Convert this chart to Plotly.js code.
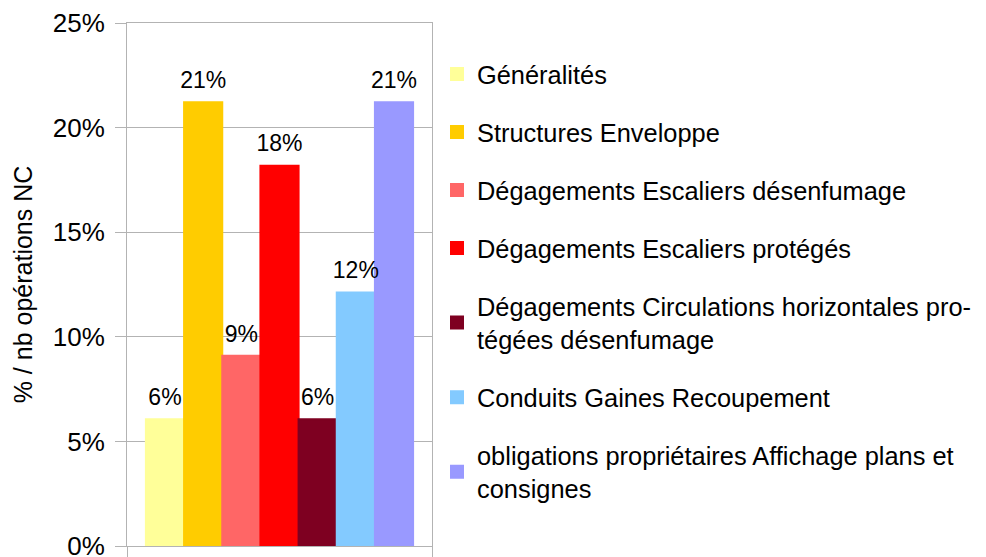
<!DOCTYPE html>
<html>
<head>
<meta charset="utf-8">
<script src="https://cdn.plot.ly/plotly-3.0.1.min.js"></script>
<style>html,body{margin:0;padding:0;background:#fff;}#chart{width:986px;height:557px;}</style>
</head>
<body>
<div id="chart"></div>
<script>
const seriesNames = [
  "Généralités",
  "Structures Enveloppe",
  "Dégagements Escaliers désenfumage",
  "Dégagements Escaliers protégés",
  "Dégagements Circulations horizontales pro-<br>tégées désenfumage",
  "Conduits Gaines Recoupement",
  "obligations propriétaires Affichage plans et<br>consignes"
];
const seriesValues = [0.0606, 0.2121, 0.0909, 0.1818, 0.0606, 0.1212, 0.2121];
const seriesColors = ["#ffff99", "#ffcc00", "#ff6666", "#ff0000", "#7e0021", "#83caff", "#9999ff"];
const yTickVals = [0, 0.05, 0.10, 0.15, 0.20, 0.25];
const yTickText = ["0%", "5%", "10%", "15%", "20%", "25%"];
const yTitle = "% / nb opérations NC";

const FONT = "Liberation Sans, Arial, sans-serif";

const barTraces = seriesNames.map((name, i) => ({
  type: "bar",
  name: name,
  x: [0],
  y: [seriesValues[i]],
  marker: {color: seriesColors[i], line: {width: 2, color: seriesColors[i]}},
  legendgroup: "g" + i,
  hoverinfo: "none"
}));

// value labels, grouped like the bars (scattermode group)
const labelTraces = seriesNames.map((name, i) => ({
  type: "scatter",
  mode: "markers+text",
  x: [0],
  y: [seriesValues[i]],
  texttemplate: "%{y:.0%}",
  textposition: "top center",
  textfont: {family: FONT, size: 23, color: "#000"},
  marker: {size: 12, opacity: 0},
  cliponaxis: false,
  showlegend: false,
  hoverinfo: "none"
}));

// plot area: x 127..433, y 23..546
const layout = {
  width: 986,
  height: 557,
  paper_bgcolor: "#fff",
  plot_bgcolor: "#fff",
  font: {family: FONT, size: 24, color: "#000"},
  margin: {l: 127, r: 553, t: 23, b: 11, pad: 0},
  barmode: "group",
  bargap: 0.124,
  bargroupgap: 0,
  scattermode: "group",
  scattergap: 0.124,
  showlegend: true,
  legend: {
    x: (437 - 127) / 306, y: (546 - 51) / 523,
    xanchor: "left", yanchor: "top",
    font: {family: FONT, size: 25.4, color: "#000"},
    tracegroupgap: 22,
    traceorder: "grouped",
    itemwidth: 30,
    bgcolor: "rgba(0,0,0,0)"
  },
  xaxis: {
    type: "linear",
    range: [-0.5, 0.5],
    tickvals: [-0.5, 0.5],
    ticktext: ["", ""],
    ticks: "outside",
    ticklen: 11,
    tickcolor: "#b3b3b3",
    showgrid: false,
    zeroline: false,
    showline: true,
    linecolor: "#b3b3b3",
    linewidth: 1,
    mirror: true,
    automargin: false,
    fixedrange: true
  },
  yaxis: {
    range: [0, 0.25],
    tickvals: yTickVals,
    ticktext: yTickText,
    ticks: "outside",
    ticklen: 11,
    tickcolor: "#b3b3b3",
    ticklabelstandoff: 5,
    ticklabeloverflow: "allow",
    showgrid: true,
    gridcolor: "#b3b3b3",
    gridwidth: 1,
    zeroline: false,
    showline: true,
    linecolor: "#b3b3b3",
    linewidth: 1,
    mirror: true,
    tickfont: {family: FONT, size: 26, color: "#000"},
    automargin: "left",
    title: {text: yTitle, font: {family: FONT, size: 25, color: "#000"}, standoff: 13},
    fixedrange: true
  }
};

Plotly.newPlot("chart", barTraces.concat(labelTraces), layout, {displayModeBar: false, staticPlot: true});
</script>
</body>
</html>
